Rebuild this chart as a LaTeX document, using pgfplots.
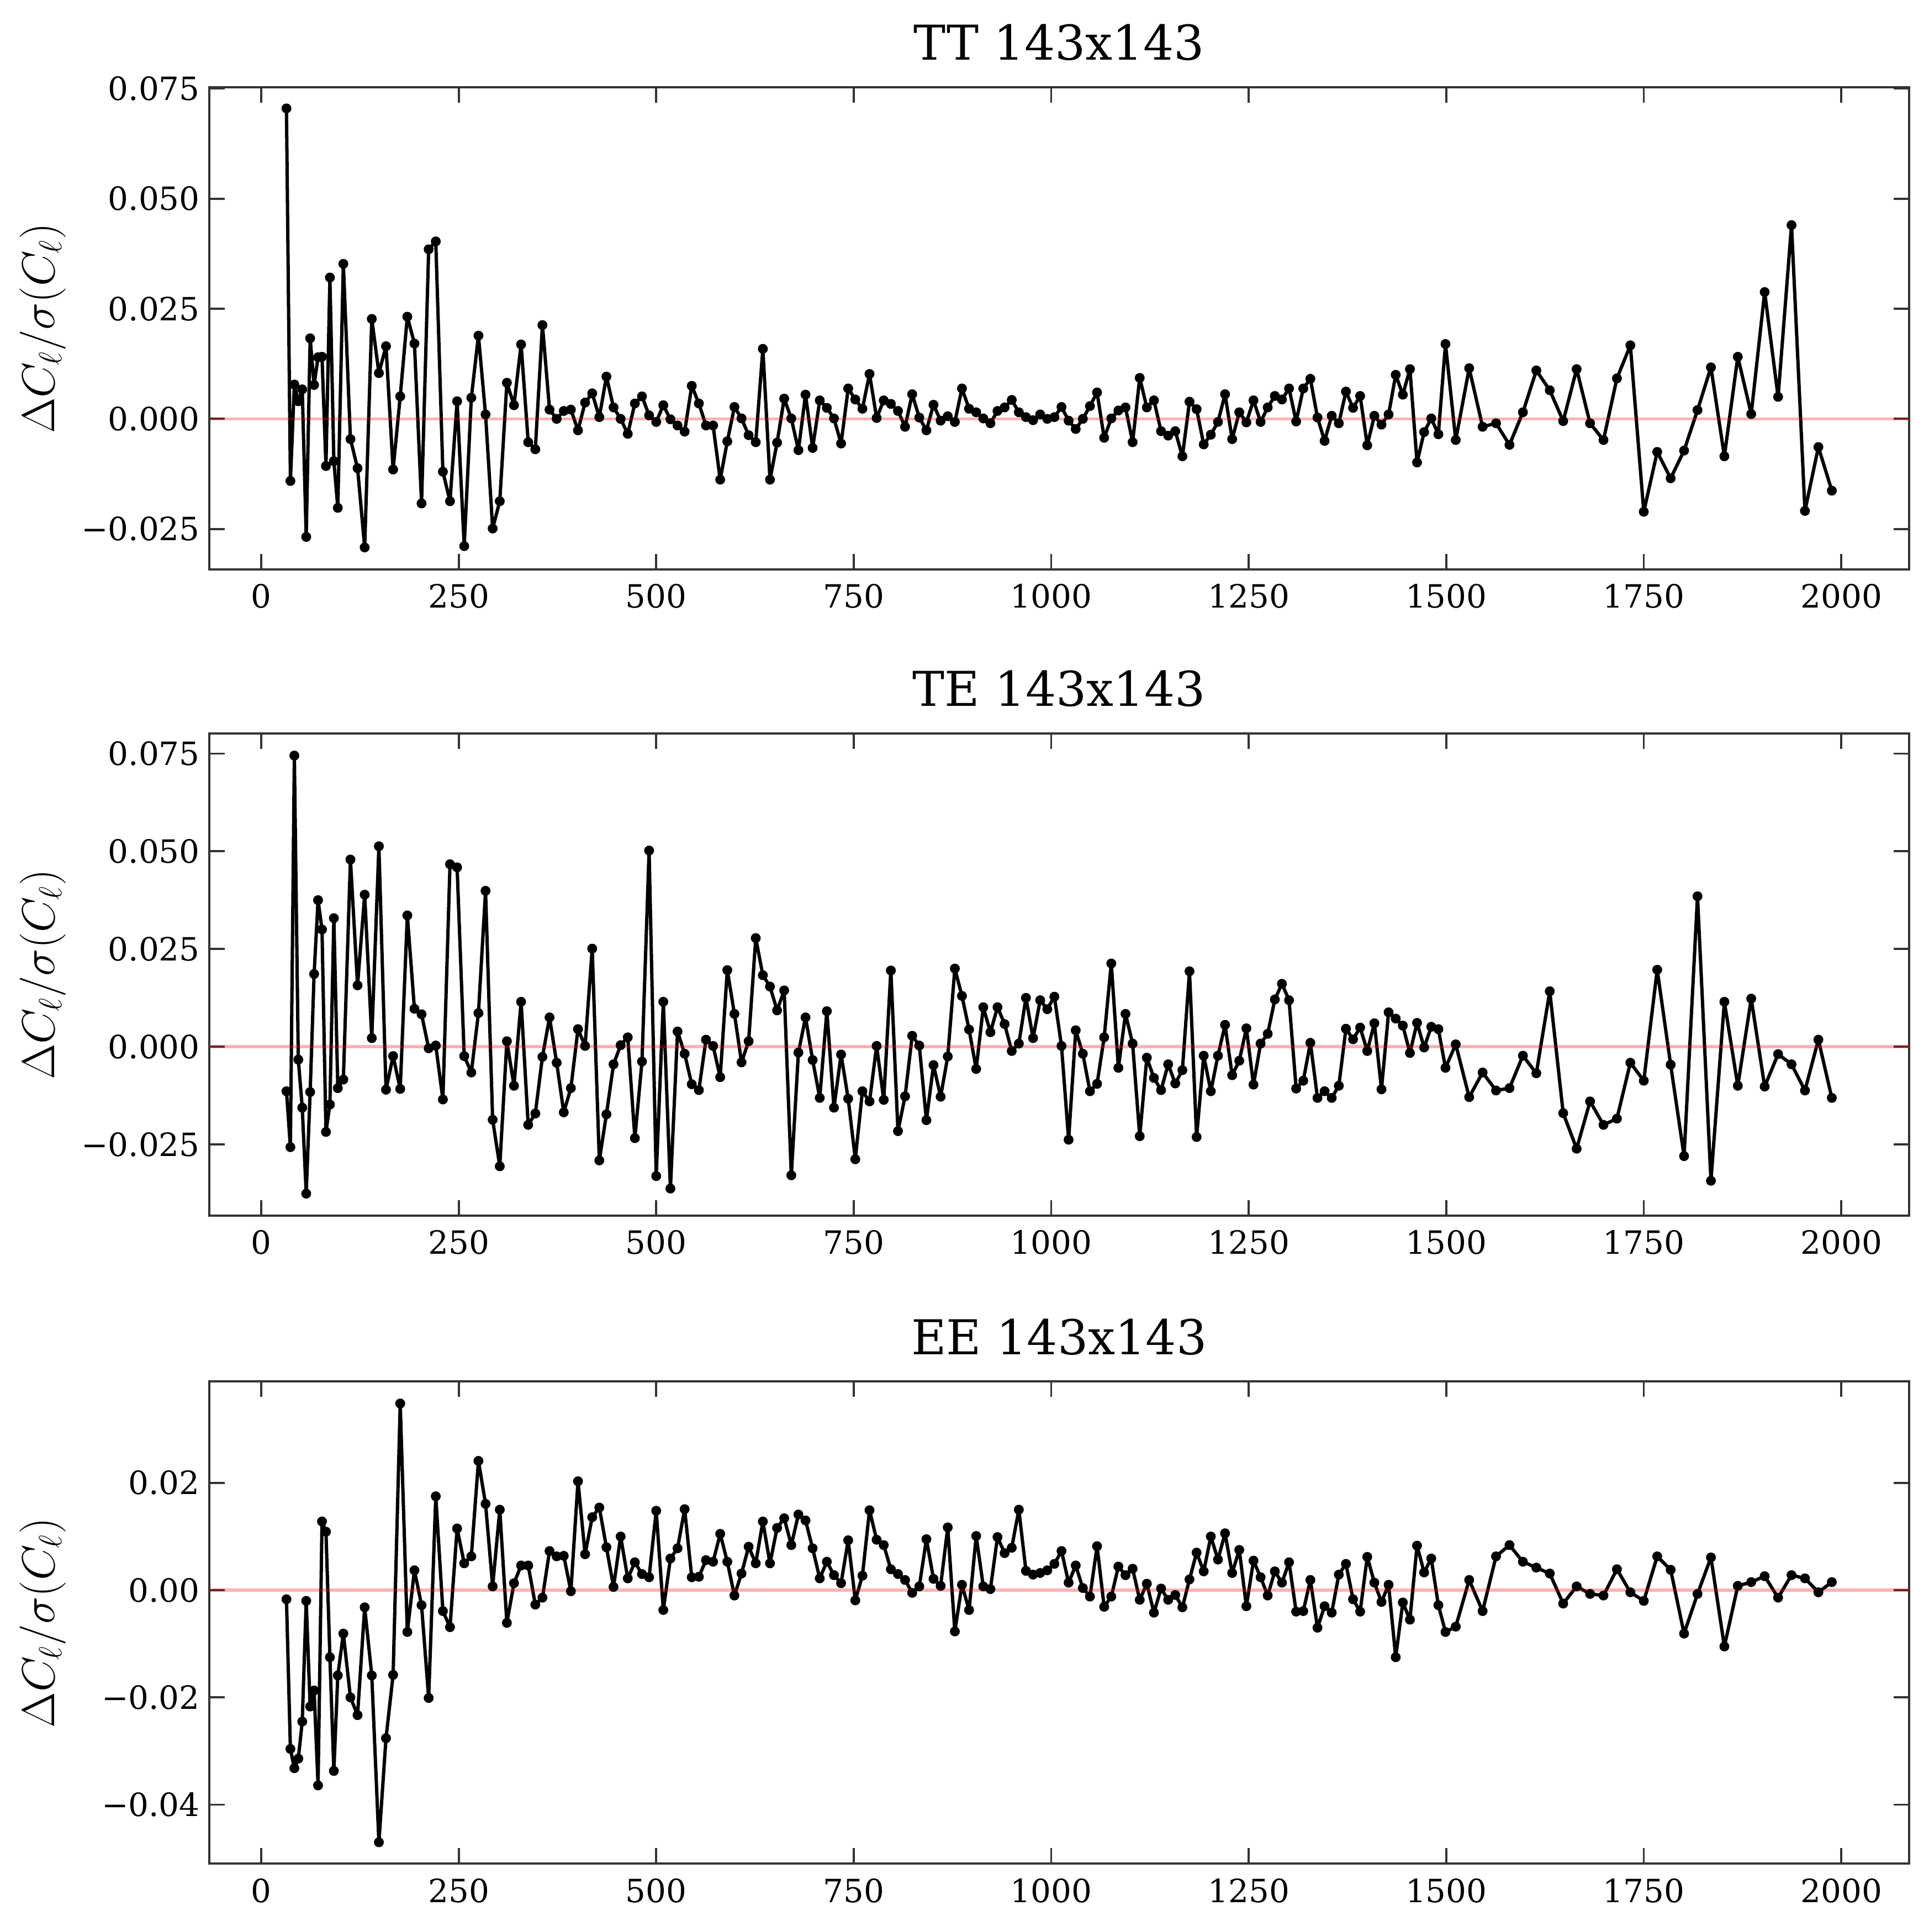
\documentclass[border=0pt]{standalone}
\usepackage{pgfplots}
\pgfplotsset{compat=1.18}
\usepackage{pgfplotstable}
\usepackage{fontspec}
\setmainfont{DejaVu Serif}

% binned residuals, Delta C_l / sigma(C_l), for TT, TE, EE
\pgfplotstableread{
l tt te ee
32 0.0705 -0.0114 -0.0017
37 -0.0141 -0.0257 -0.0296
42 0.0078 0.0745 -0.0332
47 0.0040 -0.0033 -0.0314
52 0.0067 -0.0156 -0.0245
57 -0.0268 -0.0376 -0.0020
62 0.0183 -0.0116 -0.0217
67 0.0077 0.0186 -0.0187
72 0.0140 0.0375 -0.0364
77 0.0141 0.0300 0.0128
82 -0.0107 -0.0218 0.0109
87 0.0321 -0.0148 -0.0125
92 -0.0096 0.0329 -0.0337
97 -0.0202 -0.0106 -0.0159
104 0.0352 -0.0084 -0.0081
113 -0.0046 0.0479 -0.0200
122 -0.0112 0.0157 -0.0233
131 -0.0292 0.0389 -0.0032
140 0.0227 0.0022 -0.0159
149 0.0104 0.0513 -0.0470
158 0.0165 -0.0110 -0.0276
167 -0.0115 -0.0024 -0.0158
176 0.0051 -0.0108 0.0348
185 0.0232 0.0336 -0.0078
194 0.0171 0.0097 0.0037
203 -0.0192 0.0083 -0.0028
212 0.0385 -0.0004 -0.0201
221 0.0403 0.0003 0.0175
230 -0.0120 -0.0135 -0.0039
239 -0.0187 0.0467 -0.0069
248 0.0040 0.0459 0.0115
257 -0.0289 -0.0024 0.0050
266 0.0048 -0.0066 0.0063
275 0.0189 0.0086 0.0241
284 0.0010 0.0399 0.0161
293 -0.0249 -0.0187 0.0007
302 -0.0187 -0.0306 0.0150
311 0.0082 0.0014 -0.0061
320 0.0031 -0.0100 0.0013
329 0.0169 0.0115 0.0046
338 -0.0053 -0.0200 0.0046
347 -0.0069 -0.0171 -0.0027
356 0.0213 -0.0026 -0.0014
365 0.0021 0.0075 0.0073
374 0.0000 -0.0041 0.0063
383 0.0018 -0.0168 0.0064
392 0.0021 -0.0106 -0.0002
401 -0.0026 0.0045 0.0203
410 0.0037 0.0002 0.0067
419 0.0058 0.0251 0.0136
428 0.0004 -0.0291 0.0154
437 0.0096 -0.0173 0.0080
446 0.0026 -0.0045 0.0006
455 0.0000 0.0004 0.0100
464 -0.0034 0.0024 0.0022
473 0.0035 -0.0234 0.0052
482 0.0051 -0.0038 0.0030
491 0.0008 0.0502 0.0024
500 -0.0007 -0.0331 0.0148
509 0.0031 0.0115 -0.0037
518 -0.0001 -0.0363 0.0059
527 -0.0015 0.0039 0.0078
536 -0.0029 -0.0018 0.0151
545 0.0075 -0.0096 0.0024
554 0.0035 -0.0111 0.0025
563 -0.0015 0.0018 0.0056
572 -0.0015 0.0002 0.0053
581 -0.0138 -0.0078 0.0105
590 -0.0051 0.0196 0.0053
599 0.0027 0.0084 -0.0010
608 0.0001 -0.0040 0.0031
617 -0.0037 0.0014 0.0081
626 -0.0053 0.0278 0.0050
635 0.0159 0.0183 0.0128
644 -0.0138 0.0154 0.0050
653 -0.0054 0.0093 0.0116
662 0.0046 0.0144 0.0134
671 0.0001 -0.0329 0.0084
680 -0.0071 -0.0015 0.0141
689 0.0055 0.0075 0.0130
698 -0.0066 -0.0034 0.0078
707 0.0042 -0.0131 0.0022
716 0.0025 0.0091 0.0053
725 0.0001 -0.0156 0.0028
734 -0.0056 -0.0020 0.0013
743 0.0069 -0.0133 0.0093
752 0.0044 -0.0288 -0.0019
761 0.0023 -0.0114 0.0027
770 0.0102 -0.0140 0.0149
779 0.0002 0.0002 0.0094
788 0.0042 -0.0136 0.0084
797 0.0034 0.0195 0.0039
806 0.0018 -0.0216 0.0030
815 -0.0018 -0.0127 0.0019
824 0.0056 0.0028 -0.0005
833 0.0003 0.0003 0.0007
842 -0.0026 -0.0188 0.0095
851 0.0032 -0.0047 0.0021
860 -0.0004 -0.0128 0.0008
869 0.0006 -0.0025 0.0117
878 -0.0007 0.0200 -0.0077
887 0.0069 0.0130 0.0010
896 0.0023 0.0044 -0.0037
905 0.0015 -0.0057 0.0101
914 0.0001 0.0101 0.0007
923 -0.0010 0.0037 0.0002
932 0.0018 0.0101 0.0099
941 0.0026 0.0058 0.0069
950 0.0043 -0.0011 0.0079
959 0.0015 0.0008 0.0150
968 0.0004 0.0125 0.0036
977 -0.0003 0.0022 0.0029
986 0.0010 0.0119 0.0032
995 0.0000 0.0096 0.0037
1004 0.0004 0.0128 0.0049
1013 0.0027 0.0002 0.0073
1022 -0.0004 -0.0238 0.0014
1031 -0.0023 0.0042 0.0046
1040 0.0000 -0.0018 0.0004
1049 0.0029 -0.0114 -0.0012
1058 0.0060 -0.0095 0.0082
1067 -0.0043 0.0024 -0.0031
1076 0.0001 0.0213 -0.0012
1085 0.0019 -0.0054 0.0044
1094 0.0026 0.0084 0.0028
1103 -0.0053 0.0008 0.0040
1112 0.0093 -0.0229 -0.0018
1121 0.0026 -0.0028 0.0012
1130 0.0042 -0.0080 -0.0042
1139 -0.0028 -0.0111 0.0003
1148 -0.0038 -0.0045 -0.0018
1157 -0.0028 -0.0094 -0.0009
1166 -0.0085 -0.0060 -0.0032
1175 0.0039 0.0193 0.0020
1184 0.0022 -0.0231 0.0070
1193 -0.0058 -0.0023 0.0035
1202 -0.0036 -0.0114 0.0100
1211 -0.0007 -0.0023 0.0057
1220 0.0056 0.0056 0.0106
1229 -0.0046 -0.0073 0.0032
1238 0.0015 -0.0036 0.0075
1247 -0.0008 0.0047 -0.0030
1256 0.0042 -0.0097 0.0055
1265 -0.0007 0.0008 0.0024
1274 0.0026 0.0033 -0.0010
1283 0.0052 0.0121 0.0035
1292 0.0044 0.0161 0.0014
1301 0.0069 0.0119 0.0052
1310 -0.0006 -0.0107 -0.0040
1319 0.0069 -0.0087 -0.0039
1328 0.0091 0.0010 0.0019
1337 0.0003 -0.0131 -0.0070
1346 -0.0050 -0.0114 -0.0030
1355 0.0007 -0.0131 -0.0042
1364 -0.0010 -0.0100 0.0029
1373 0.0062 0.0046 0.0049
1382 0.0025 0.0019 -0.0017
1391 0.0052 0.0049 -0.0040
1400 -0.0060 -0.0011 0.0062
1409 0.0007 0.0060 0.0014
1418 -0.0013 -0.0109 -0.0022
1427 0.0010 0.0088 0.0010
1436 0.0100 0.0072 -0.0125
1445 0.0055 0.0054 -0.0023
1454 0.0113 -0.0016 -0.0055
1463 -0.0099 0.0061 0.0083
1472 -0.0030 -0.0002 0.0033
1481 0.0001 0.0051 0.0059
1490 -0.0035 0.0045 -0.0028
1499 0.0170 -0.0054 -0.0078
1512 -0.0048 0.0006 -0.0068
1529 0.0115 -0.0129 0.0019
1546 -0.0018 -0.0066 -0.0039
1563 -0.0010 -0.0112 0.0063
1580 -0.0059 -0.0106 0.0084
1597 0.0015 -0.0023 0.0053
1614 0.0110 -0.0068 0.0042
1631 0.0065 0.0142 0.0031
1648 -0.0005 -0.0170 -0.0025
1665 0.0113 -0.0261 0.0007
1682 -0.0010 -0.0140 -0.0007
1699 -0.0048 -0.0200 -0.0010
1716 0.0092 -0.0184 0.0039
1733 0.0167 -0.0041 -0.0004
1750 -0.0211 -0.0087 -0.0020
1767 -0.0075 0.0197 0.0063
1784 -0.0135 -0.0046 0.0038
1801 -0.0072 -0.0280 -0.0081
1818 0.0020 0.0385 -0.0007
1835 0.0117 -0.0343 0.0061
1852 -0.0085 0.0115 -0.0105
1869 0.0141 -0.0100 0.0008
1886 0.0011 0.0123 0.0015
1903 0.0288 -0.0102 0.0026
1920 0.0050 -0.0019 -0.0014
1937 0.0440 -0.0045 0.0028
1954 -0.0209 -0.0112 0.0022
1971 -0.0064 0.0018 -0.0004
1988 -0.0163 -0.0131 0.0015
}\spectra

\pgfplotsset{
  panel/.style={
    scale only axis, width=637.1pt, height=180.7pt, anchor=south west,
    xmin=-65.8, xmax=2085.8,
    xtick={0,250,...,2000},
    xticklabels={0,250,500,750,1000,1250,1500,1750,2000},
    scaled ticks=false,
    tick align=inside, major tick length=5.8pt,
    axis line style={black!80, line width=0.8pt},
    tick style={black!80, line width=0.8pt},
    ticklabel style={font=\fontsize{12}{14}\selectfont},
    xticklabel style={yshift=-2pt},
    title style={font=\fontsize{18}{20}\selectfont, at={(0.5,1)}, anchor=base, yshift=4.2pt},
    ylabel={$\Delta C_\ell/\sigma(C_\ell)$},
    every axis y label/.style={at={(axis description cs:-0.0978,0.5)}, rotate=90,
      anchor=center, font=\fontsize{18}{20}\selectfont},
  },
  resid/.style={black, line width=1.25pt, line join=round, mark=*, mark size=1.7pt,
    mark options={solid, line width=0.3pt}},
  zero/.style={red, opacity=0.3, line width=1.1pt, forget plot},
}

\begin{document}
\begin{tikzpicture}
\path[use as bounding box] (0,0) rectangle (722.8pt,-724pt);

\begin{axis}[panel, at={(78.4pt,-213.4pt)},
  title={TT 143x143},
  ymin=-0.0342, ymax=0.0753,
  ytick={-0.025,0,0.025,0.05,0.075},
  yticklabels={−0.025,0.000,0.025,0.050,0.075}]
  \addplot[resid] table[x=l, y=tt] {\spectra};
  \addplot[zero] coordinates {(-65.8,0) (2085.8,0)};
\end{axis}

\begin{axis}[panel, at={(78.4pt,-455.5pt)},
  title={TE 143x143},
  ymin=-0.0432, ymax=0.0802,
  ytick={-0.025,0,0.025,0.05,0.075},
  yticklabels={−0.025,0.000,0.025,0.050,0.075}]
  \addplot[resid] table[x=l, y=te] {\spectra};
  \addplot[zero] coordinates {(-65.8,0) (2085.8,0)};
\end{axis}

\begin{axis}[panel, at={(78.4pt,-698.4pt)},
  title={EE 143x143},
  ymin=-0.0510, ymax=0.0389,
  ytick={-0.04,-0.02,0,0.02},
  yticklabels={−0.04,−0.02,0.00,0.02}]
  \addplot[resid] table[x=l, y=ee] {\spectra};
  \addplot[zero] coordinates {(-65.8,0) (2085.8,0)};
\end{axis}
\end{tikzpicture}
\end{document}
